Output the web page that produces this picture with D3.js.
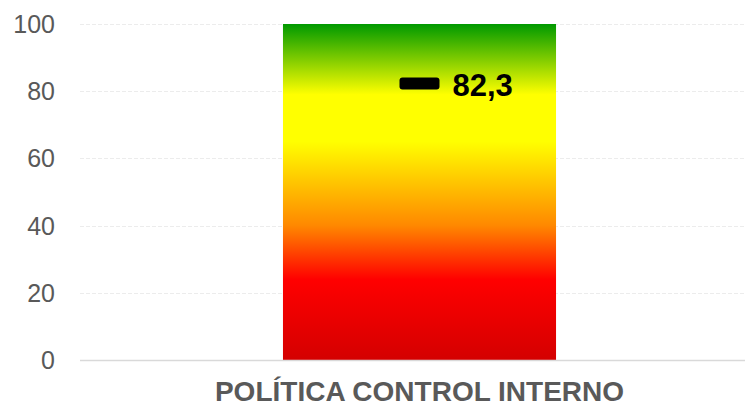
<!DOCTYPE html>
<html>
<head>
<meta charset="utf-8">
<script src="https://cdn.jsdelivr.net/npm/d3@7"></script>
<style>
  body { margin: 0; background: #fff; }
  svg { display: block; font-family: "Liberation Sans", Arial, sans-serif; }
</style>
</head>
<body>
<div id="chart"></div>
<script>
var categories = ['POLÍTICA CONTROL INTERNO'];
var values = [100];
var markerValues = [82.3];
var markerLabels = ['82,3'];
var yTicks = [0, 20, 40, 60, 80, 100];

var width = 745, height = 408;
var margin = {left: 80, right: 0, top: 24, bottom: 48};

var svg = d3.select('#chart').append('svg')
    .attr('width', width)
    .attr('height', height);

var x = d3.scaleBand()
    .domain(categories)
    .range([94, width - margin.right])
    .padding(0.409);

var y = d3.scaleLinear()
    .domain([0, 100])
    .range([height - margin.bottom, margin.top]);

// gradient fill of the bar
var grad = svg.append('defs').append('linearGradient')
    .attr('id', 'barGrad')
    .attr('x1', 0).attr('y1', 0)
    .attr('x2', 0).attr('y2', 1);
[[0, '#009900'], [0.21, '#ffff00'], [0.35, '#ffff00'],
 [0.6, '#ff8800'], [0.76, '#ff0000'], [1, '#d40000']].forEach(function(s) {
    grad.append('stop').attr('offset', s[0]).attr('stop-color', s[1]);
});

// gridlines
svg.append('g')
    .selectAll('line')
    .data(yTicks.filter(function(t) { return t > 0; }))
    .enter().append('line')
    .attr('x1', margin.left)
    .attr('x2', width - margin.right)
    .attr('y1', function(d) { return Math.round(y(d)) + 0.5; })
    .attr('y2', function(d) { return Math.round(y(d)) + 0.5; })
    .attr('stroke', '#ececec')
    .attr('stroke-dasharray', '4,2');

// y tick labels
svg.append('g')
    .selectAll('text')
    .data(yTicks)
    .enter().append('text')
    .attr('x', 55)
    .attr('y', function(d) { return y(d); })
    .attr('dy', '0.36em')
    .attr('text-anchor', 'end')
    .attr('fill', '#595959')
    .attr('font-size', 25)
    .text(function(d) { return d; });

// bar
svg.append('g')
    .selectAll('rect')
    .data(values)
    .enter().append('rect')
    .attr('x', function(d, i) { return x(categories[i]); })
    .attr('y', function(d) { return y(d); })
    .attr('width', x.bandwidth())
    .attr('height', function(d) { return y(0) - y(d); })
    .attr('fill', 'url(#barGrad)');

// x axis line
svg.append('line')
    .attr('x1', margin.left)
    .attr('x2', width - margin.right)
    .attr('y1', Math.round(y(0)) + 0.5)
    .attr('y2', Math.round(y(0)) + 0.5)
    .attr('stroke', '#d9d9d9')
    .attr('stroke-width', 1.5);

// category label
svg.append('g')
    .selectAll('text')
    .data(categories)
    .enter().append('text')
    .attr('x', function(d) { return x(d) + x.bandwidth() / 2; })
    .attr('y', 401)
    .attr('text-anchor', 'middle')
    .attr('fill', '#595959')
    .attr('font-size', 28)
    .attr('font-weight', 'bold')
    .text(function(d) { return d; });

// marker + value label
var mk = svg.append('g')
    .selectAll('g')
    .data(markerValues)
    .enter().append('g');

mk.append('rect')
    .attr('x', function(d, i) { return x(categories[i]) + x.bandwidth() / 2 - 20; })
    .attr('y', function(d) { return y(d) - 6; })
    .attr('width', 40)
    .attr('height', 12)
    .attr('rx', 3)
    .attr('fill', '#000');

mk.append('text')
    .attr('x', function(d, i) { return x(categories[i]) + x.bandwidth() / 2 + 33; })
    .attr('y', function(d) { return y(d) + 1; })
    .attr('dy', '0.36em')
    .attr('font-size', 31)
    .attr('font-weight', 'bold')
    .attr('fill', '#000')
    .text(function(d, i) { return markerLabels[i]; });
</script>
</body>
</html>
